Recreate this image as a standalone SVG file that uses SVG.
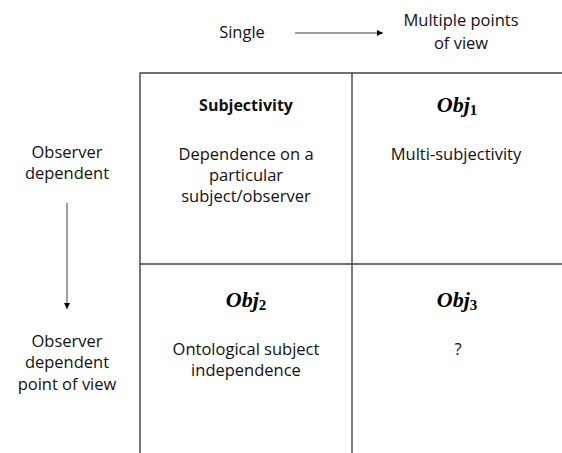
<svg xmlns="http://www.w3.org/2000/svg" width="562" height="453" viewBox="0 0 562 453">
<style>
  .t { font-family: "Open Sans", "Liberation Sans", sans-serif; font-size: 16.5px; fill: #111; text-anchor: middle; }
  .b { font-weight: bold; font-size: 16px; }
  .m { font-family: "Liberation Serif", "DejaVu Serif", serif; font-weight: bold; font-style: italic; font-size: 22px; fill: #000; text-anchor: middle; }
  .sub { font-size: 15px; font-style: normal; }
  .grid { stroke: #404040; stroke-width: 1.4; fill: none; }
  .conn { stroke: #404040; stroke-width: 1; fill: none; }
</style>
<defs>
  <marker id="ah" viewBox="0 0 10 10" refX="10" refY="5" markerWidth="6" markerHeight="6" markerUnits="userSpaceOnUse" orient="auto">
    <path d="M0,0 L10,5 L0,10 z" fill="#000"/>
  </marker>
</defs>
<rect width="562" height="453" fill="#fff"/>
<g id="grid">
  <path class="grid" d="M140,453 V73 H562"/>
  <path class="grid" d="M352,73 V453"/>
  <path class="grid" d="M140,264 H562"/>
</g>
<g id="connectors">
  <line class="conn" x1="295" y1="33" x2="383" y2="33" marker-end="url(#ah)"/>
  <line class="conn" x1="67" y1="203" x2="67" y2="309" marker-end="url(#ah)"/>
</g>
<g id="single"><text class="t" x="242" y="38">Single</text></g>
<g id="multiple"><text class="t" x="461" y="26">Multiple points</text><text class="t" x="461" y="49">of view</text></g>
<g id="obs-dep"><text class="t" x="67" y="158">Observer</text><text class="t" x="67" y="179">dependent</text></g>
<g id="obs-dep-pov"><text class="t" x="67" y="347">Observer</text><text class="t" x="67" y="368">dependent</text><text class="t" x="67" y="390">point of view</text></g>
<g id="cell-subjectivity">
  <text class="t b" x="246" y="111">Subjectivity</text>
  <text class="t" x="246" y="160">Dependence on a</text>
  <text class="t" x="246" y="181">particular</text>
  <text class="t" x="246" y="202">subject/observer</text>
</g>
<g id="cell-obj1">
  <text class="m" x="457" y="112">Obj<tspan class="sub" dy="3">1</tspan></text>
  <text class="t" x="456" y="160">Multi-subjectivity</text>
</g>
<g id="cell-obj2">
  <text class="m" x="246" y="307">Obj<tspan class="sub" dy="3">2</tspan></text>
  <text class="t" x="246" y="355">Ontological subject</text>
  <text class="t" x="246" y="376">independence</text>
</g>
<g id="cell-obj3">
  <text class="m" x="457" y="307">Obj<tspan class="sub" dy="3">3</tspan></text>
  <text class="t" x="458" y="355">?</text>
</g>
</svg>
